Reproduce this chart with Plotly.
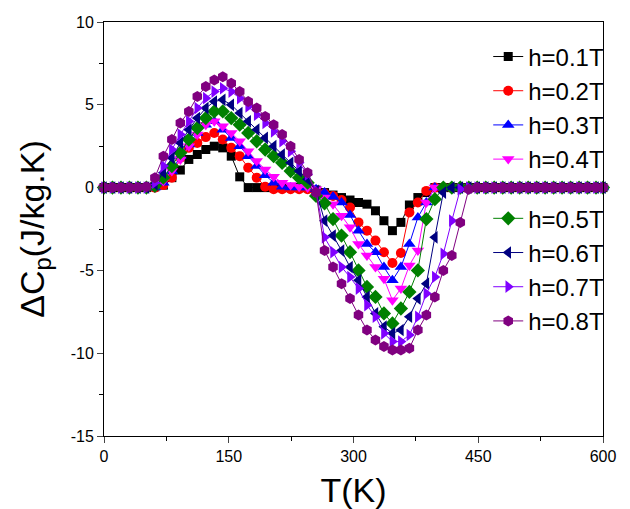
import plotly.graph_objects as go

# Temperature (K)
T = [0, 10.2, 20.4, 30.6, 40.8, 51.0, 61.2, 71.4, 81.6, 91.8,
     102.0, 112.2, 122.4, 132.6, 142.8, 153.0, 163.2, 173.4, 183.6, 193.8,
     204.0, 214.2, 224.4, 234.6, 244.8, 255.0, 265.2, 275.4, 285.6, 295.8,
     306.0, 316.2, 326.4, 336.6, 346.8, 357.0, 367.2, 377.4, 387.6, 397.8,
     408.0, 418.2, 428.4, 438.6, 448.8, 459.0, 469.2, 479.4, 489.6, 499.8,
     510.0, 520.2, 530.4, 540.6, 550.8, 561.0, 571.2, 581.4, 591.6, 600.0]

Z5 = [0, 0, 0, 0, 0]
Z16 = [0] * 16
Z20 = [0] * 20
Z21 = [0] * 21

h01 = Z5 + [0, 0.05, 0.15, 0.6, 1.06, 1.7, 2.0, 2.3, 2.5, 2.4,
            1.9, 0.65, 0, 0, 0, 0, 0, 0, 0, 0,
            -0.15, -0.3, -0.45, -0.6, -0.75, -0.9, -1.0, -1.4, -2.0, -2.6,
            -2.1, -1.05, -0.6, -0.3, 0] + Z21
h02 = Z5 + [0, 0, 0.15, 0.6, 1.8, 2.4, 2.7, 3.05, 3.3, 2.9,
            2.4, 1.9, 1.2, 0.6, 0.05, -0.1, -0.1, -0.1, -0.1, -0.1,
            -0.2, -0.35, -0.5, -0.75, -1.2, -2.1, -2.6, -3.2, -3.9, -4.55,
            -3.95, -1.5, -0.9, -0.2, 0] + Z21
h03 = Z5 + [0, 0, 0.3, 1.0, 1.9, 2.6, 3.3, 3.8, 4.0, 3.5,
            3.0, 2.5, 1.9, 1.3, 0.75, 0.3, 0.05, 0, 0, 0,
            -0.1, -0.3, -0.55, -0.9, -1.65, -2.6, -3.4, -3.9, -4.8, -5.6,
            -4.8, -3.4, -1.8, -0.9, 0] + Z21
h04 = Z5 + [0, 0, 0.4, 1.0, 1.7, 2.5, 3.2, 3.8, 4.0, 3.7,
            3.3, 2.8, 2.2, 1.6, 1.1, 0.65, 0.3, 0.15, 0.05, 0,
            -0.1, -0.6, -1.0, -1.7, -2.4, -3.4, -4.1, -4.8, -5.5, -6.8,
            -6.1, -4.7, -3.8, -0.9, 0] + Z21
h05 = Z5 + [0, 0.1, 0.6, 1.3, 2.1, 2.9, 3.6, 4.2, 4.6, 4.6,
            4.2, 3.8, 3.3, 2.8, 2.3, 1.9, 1.5, 1.0, 0.6, 0.3,
            -0.5, -0.95, -1.9, -2.9, -3.9, -5.0, -6.0, -6.6, -7.6, -8.2,
            -7.3, -6.3, -5.0, -1.9, -0.7, 0] + Z20
h06 = Z5 + [0, 0.2, 0.9, 1.8, 2.7, 3.5, 4.2, 4.8, 5.2, 5.3,
            5.0, 4.5, 4.0, 3.5, 3.0, 2.5, 2.0, 1.5, 1.0, 0.5,
            -0.2, -2.0, -2.9, -3.8, -4.8, -5.6, -6.6, -7.6, -8.4, -8.8,
            -8.6, -7.8, -6.7, -5.8, -3.0, -0.3, 0] + [0] * 19
h07 = Z5 + [0, 0.3, 1.3, 2.3, 3.2, 4.0, 4.8, 5.4, 5.8, 6.0,
            5.8, 5.4, 4.9, 4.4, 3.9, 3.4, 2.8, 2.2, 1.5, 0.8,
            -0.2, -3.0, -3.9, -4.8, -5.4, -6.1, -7.1, -7.8, -8.8, -9.3,
            -9.3, -8.9, -7.8, -6.4, -5.4, -4.0, -2.0, -0.1, 0] + [0] * 17
h08 = Z5 + [0.05, 0.6, 1.9, 2.9, 3.9, 4.6, 5.5, 6.1, 6.5, 6.7,
            6.3, 5.8, 5.2, 4.8, 4.3, 3.8, 3.2, 2.5, 1.7, 0.9,
            -0.3, -3.8, -4.8, -5.8, -6.7, -7.7, -8.6, -9.2, -9.6, -9.8,
            -9.8, -9.7, -8.6, -7.7, -6.6, -5.0, -4.1, -2.1, -0.1, 0] + Z16

names = ["h=0.1T", "h=0.2T", "h=0.3T", "h=0.4T", "h=0.5T", "h=0.6T", "h=0.7T", "h=0.8T"]
series = [h01, h02, h03, h04, h05, h06, h07, h08]
colors = ["#000000", "#FF0000", "#0000FF", "#FF00FF", "#008000", "#000080", "#8000FF", "#800080"]
symbols = ["square", "circle", "triangle-up", "triangle-down", "diamond",
           "triangle-left", "triangle-right", "hexagon"]
sizes = [9, 10, 11, 11, 11, 11, 11, 11]

x_ticks = [0, 150, 300, 450, 600]
y_ticks = [-15, -10, -5, 0, 5, 10]
y_tick_text = ["-15", "-10", "-5", "0", "5", "10"]

FONT = "Arial, Liberation Sans, sans-serif"

fig = go.Figure()
for i, (nm, ys) in enumerate(zip(names, series)):
    fig.add_trace(go.Scatter(
        x=T, y=ys, name=nm, mode="lines+markers",
        line=dict(color=colors[i], width=1),
        marker=dict(symbol=symbols[i], size=sizes[i], color=colors[i], line=dict(width=0)),
        cliponaxis=False,
        legendgroup="a" if i < 4 else "b",
    ))

fig.update_layout(
    width=630, height=509,
    margin=dict(l=104, r=27, t=22, b=73),
    paper_bgcolor="white", plot_bgcolor="white",
    font=dict(family=FONT, color="black"),
    showlegend=True,
    legend=dict(x=0.77, y=0.97, xanchor="left", yanchor="top",
                font=dict(size=24, family=FONT), bgcolor="rgba(0,0,0,0)",
                tracegroupgap=25, traceorder="grouped",
                itemwidth=30),
    xaxis=dict(range=[0, 600], tickvals=x_ticks, ticks="outside", ticklen=6, tickwidth=1,
               showline=True, linecolor="black", linewidth=1, mirror=True,
               showgrid=False, zeroline=False, automargin=False,
               tickfont=dict(size=16, family=FONT),
               minor=dict(ticks="outside", ticklen=4, dtick=75, tickcolor="black", showgrid=False),
               title=dict(text="T(K)", font=dict(size=34, family=FONT), standoff=13)),
    yaxis=dict(range=[-15, 10], tickvals=y_ticks, ticktext=y_tick_text, ticks="outside",
               ticklen=6, tickwidth=1,
               showline=True, linecolor="black", linewidth=1, mirror=True,
               showgrid=False, zeroline=False, automargin=False,
               tickfont=dict(size=16, family=FONT),
               minor=dict(ticks="outside", ticklen=4, dtick=2.5, tickcolor="black", showgrid=False),
               title=dict(text="ΔC<sub>p</sub>(J/kg.K)", font=dict(size=34, family=FONT), standoff=15)),
)

fig.write_html("out.html")
